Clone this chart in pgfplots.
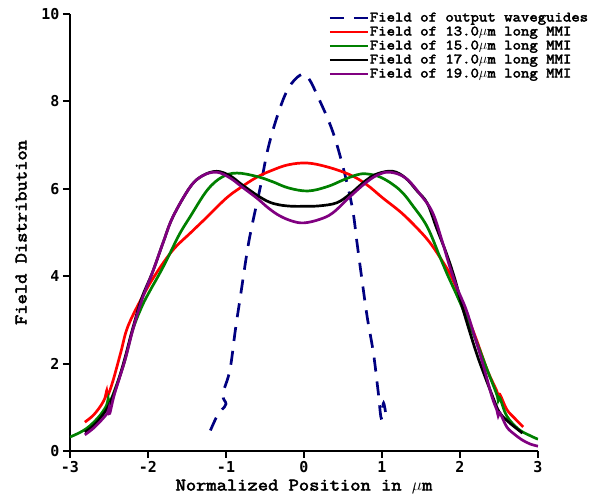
\documentclass[border=0pt]{standalone}
\usepackage{fontspec}
\newfontfamily\tickfont{DejaVu Sans Mono}
\newfontfamily\cour[FakeBold=3,FakeStretch=1.14]{Latin Modern Mono}
\usepackage{pgfplots}
\pgfplotsset{compat=1.18}
\definecolor{cblue}{RGB}{0,0,128}
\definecolor{cred}{RGB}{255,0,0}
\definecolor{cgreen}{RGB}{0,128,0}
\definecolor{cpurple}{RGB}{128,0,128}
\begin{document}
\begin{tikzpicture}
\begin{axis}[
  scale only axis, width=468pt, height=437pt,
  xmin=-3, xmax=3, ymin=0, ymax=10,
  axis lines=left, axis line style={line width=2.4pt,-},
  xtick={-3,-2,-1,0,1,2,3}, ytick={0,2,4,6,8,10},
  tick align=outside, major tick length=7pt,
  tick style={line width=2pt,black},
  /pgf/number format/assume math mode=true,
  ticklabel style={font=\tickfont\bfseries\fontsize{15}{15}\selectfont},
  xlabel={Normalized Position in $\mu$m},
  ylabel={Field Distribution},
  label style={font=\cour\fontsize{17.5}{17.5}\selectfont},
  xlabel style={yshift=0pt},
  ylabel style={yshift=8pt},
  legend style={at={(1.115,1.012)}, anchor=north east, draw=none, fill=none,
    font=\cour\fontsize{14.3}{14}\selectfont,
    nodes={inner sep=0.5pt, text height=10pt, text depth=3pt},
    row sep=0pt},
  legend cell align=left,
  legend image code/.code={\draw[#1] plot coordinates {(0pt,0pt) (38pt,0pt)};},
  every axis plot/.append style={line width=2.7pt},
]
\addplot[cblue, dash pattern=on 14pt off 10pt, smooth, tension=0.6] coordinates {
(-1.2,0.47) (-1.12,0.78) (-1.05,0.95) (-1.0,1.08) (-1.04,1.3) (-0.95,1.85)
(-0.88,2.77) (-0.81,3.6) (-0.73,4.55) (-0.67,5.13) (-0.56,6.04) (-0.46,6.93)
(-0.33,7.73) (-0.2,8.3) (-0.05,8.6) (0.05,8.55) (0.18,8.1) (0.36,7.35)
(0.5,6.5) (0.62,5.56) (0.68,4.76) (0.74,3.96) (0.81,3.07) (0.89,2.24)
(0.95,1.37) (0.99,0.75) (1.02,1.1) (1.06,0.7)};
\addlegendentry{Field of output waveguides}
\addplot[cred, smooth, tension=0.6] coordinates {
(-2.81,0.66) (-2.7,0.82) (-2.6,1.05) (-2.55,1.22) (-2.53,1.38) (-2.52,1.25)
(-2.45,1.6) (-2.35,2.25) (-2.26,2.84) (-2.08,3.5) (-1.9,4.05) (-1.68,4.6)
(-1.45,5.0) (-1.24,5.36) (-1.0,5.78) (-0.82,6.02) (-0.6,6.27) (-0.4,6.43)
(-0.2,6.55) (0.04,6.59) (0.3,6.5) (0.59,6.32) (0.8,6.1) (1.01,5.79)
(1.25,5.45) (1.45,5.1) (1.6,4.8) (1.74,4.44) (1.9,3.95) (2.06,3.23)
(2.2,2.6) (2.35,1.85) (2.47,1.38) (2.49,1.22) (2.51,1.3) (2.6,0.95)
(2.7,0.75) (2.81,0.55)};
\addlegendentry{Field of 13.0$\mu$m long MMI}
\addplot[cgreen, smooth, tension=0.6] coordinates {
(-3,0.32) (-2.9,0.4) (-2.8,0.5) (-2.7,0.65) (-2.6,0.85) (-2.53,1.05)
(-2.51,1.2) (-2.5,1.08) (-2.43,1.38) (-2.3,2.05) (-2.2,2.75) (-2.08,3.3)
(-1.98,3.65) (-1.87,4.0) (-1.76,4.37) (-1.6,4.95) (-1.46,5.36) (-1.24,5.97)
(-1.05,6.27) (-0.86,6.36) (-0.6,6.28) (-0.4,6.16) (-0.2,6.02) (0.05,5.95)
(0.3,6.05) (0.5,6.2) (0.68,6.32) (0.81,6.34) (1.0,6.25) (1.23,5.97)
(1.4,5.6) (1.58,5.13) (1.74,4.45) (1.83,4.07) (2.0,3.4) (2.2,2.55)
(2.35,1.85) (2.47,1.3) (2.49,1.15) (2.51,1.22) (2.6,0.8) (2.75,0.5)
(2.9,0.35) (3.0,0.27)};
\addlegendentry{Field of 15.0$\mu$m long MMI}
\addplot[black, smooth, tension=0.6] coordinates {
(-2.81,0.43) (-2.7,0.58) (-2.6,0.78) (-2.5,1.05) (-2.4,1.5) (-2.3,2.1)
(-2.19,2.84) (-2.08,3.5) (-1.94,4.1) (-1.8,4.8) (-1.68,5.36) (-1.46,6.04)
(-1.3,6.3) (-1.12,6.4) (-0.95,6.3) (-0.8,6.1) (-0.6,5.85) (-0.45,5.7)
(-0.31,5.63) (-0.15,5.6) (0,5.6) (0.2,5.61) (0.42,5.68) (0.59,5.88)
(0.8,6.2) (0.95,6.35) (1.14,6.4) (1.3,6.25) (1.45,5.95) (1.58,5.67)
(1.7,5.1) (1.83,4.5) (1.94,3.9) (2.04,3.23) (2.2,2.3) (2.3,1.8)
(2.42,1.24) (2.5,0.9) (2.6,0.7) (2.7,0.55) (2.8,0.41)};
\addlegendentry{Field of 17.0$\mu$m long MMI}
\addplot[cpurple, smooth, tension=0.6] coordinates {
(-2.81,0.37) (-2.7,0.52) (-2.6,0.7) (-2.52,0.87) (-2.5,0.98) (-2.49,0.86)
(-2.43,1.3) (-2.3,2.05) (-2.19,2.8) (-2.08,3.45) (-1.94,4.1) (-1.8,4.8)
(-1.68,5.36) (-1.46,6.04) (-1.3,6.3) (-1.12,6.38) (-0.95,6.25) (-0.8,6.05)
(-0.6,5.78) (-0.45,5.55) (-0.31,5.38) (-0.15,5.26) (0,5.22) (0.2,5.3)
(0.37,5.45) (0.59,5.82) (0.8,6.15) (0.95,6.32) (1.1,6.38) (1.3,6.25)
(1.5,5.85) (1.65,5.45) (1.78,4.75) (1.87,4.21) (1.97,3.7) (2.08,3.23)
(2.2,2.55) (2.3,1.95) (2.41,1.24) (2.47,0.95) (2.49,0.8) (2.51,0.88)
(2.6,0.55) (2.7,0.38) (2.8,0.25) (2.9,0.16) (3.0,0.11)};
\addlegendentry{Field of 19.0$\mu$m long MMI}
\end{axis}
\pgfresetboundingbox
\path ([shift={(-70pt,-49pt)}]current axis.south west) rectangle ([shift={(64pt,14pt)}]current axis.north east);
\end{tikzpicture}
\end{document}
